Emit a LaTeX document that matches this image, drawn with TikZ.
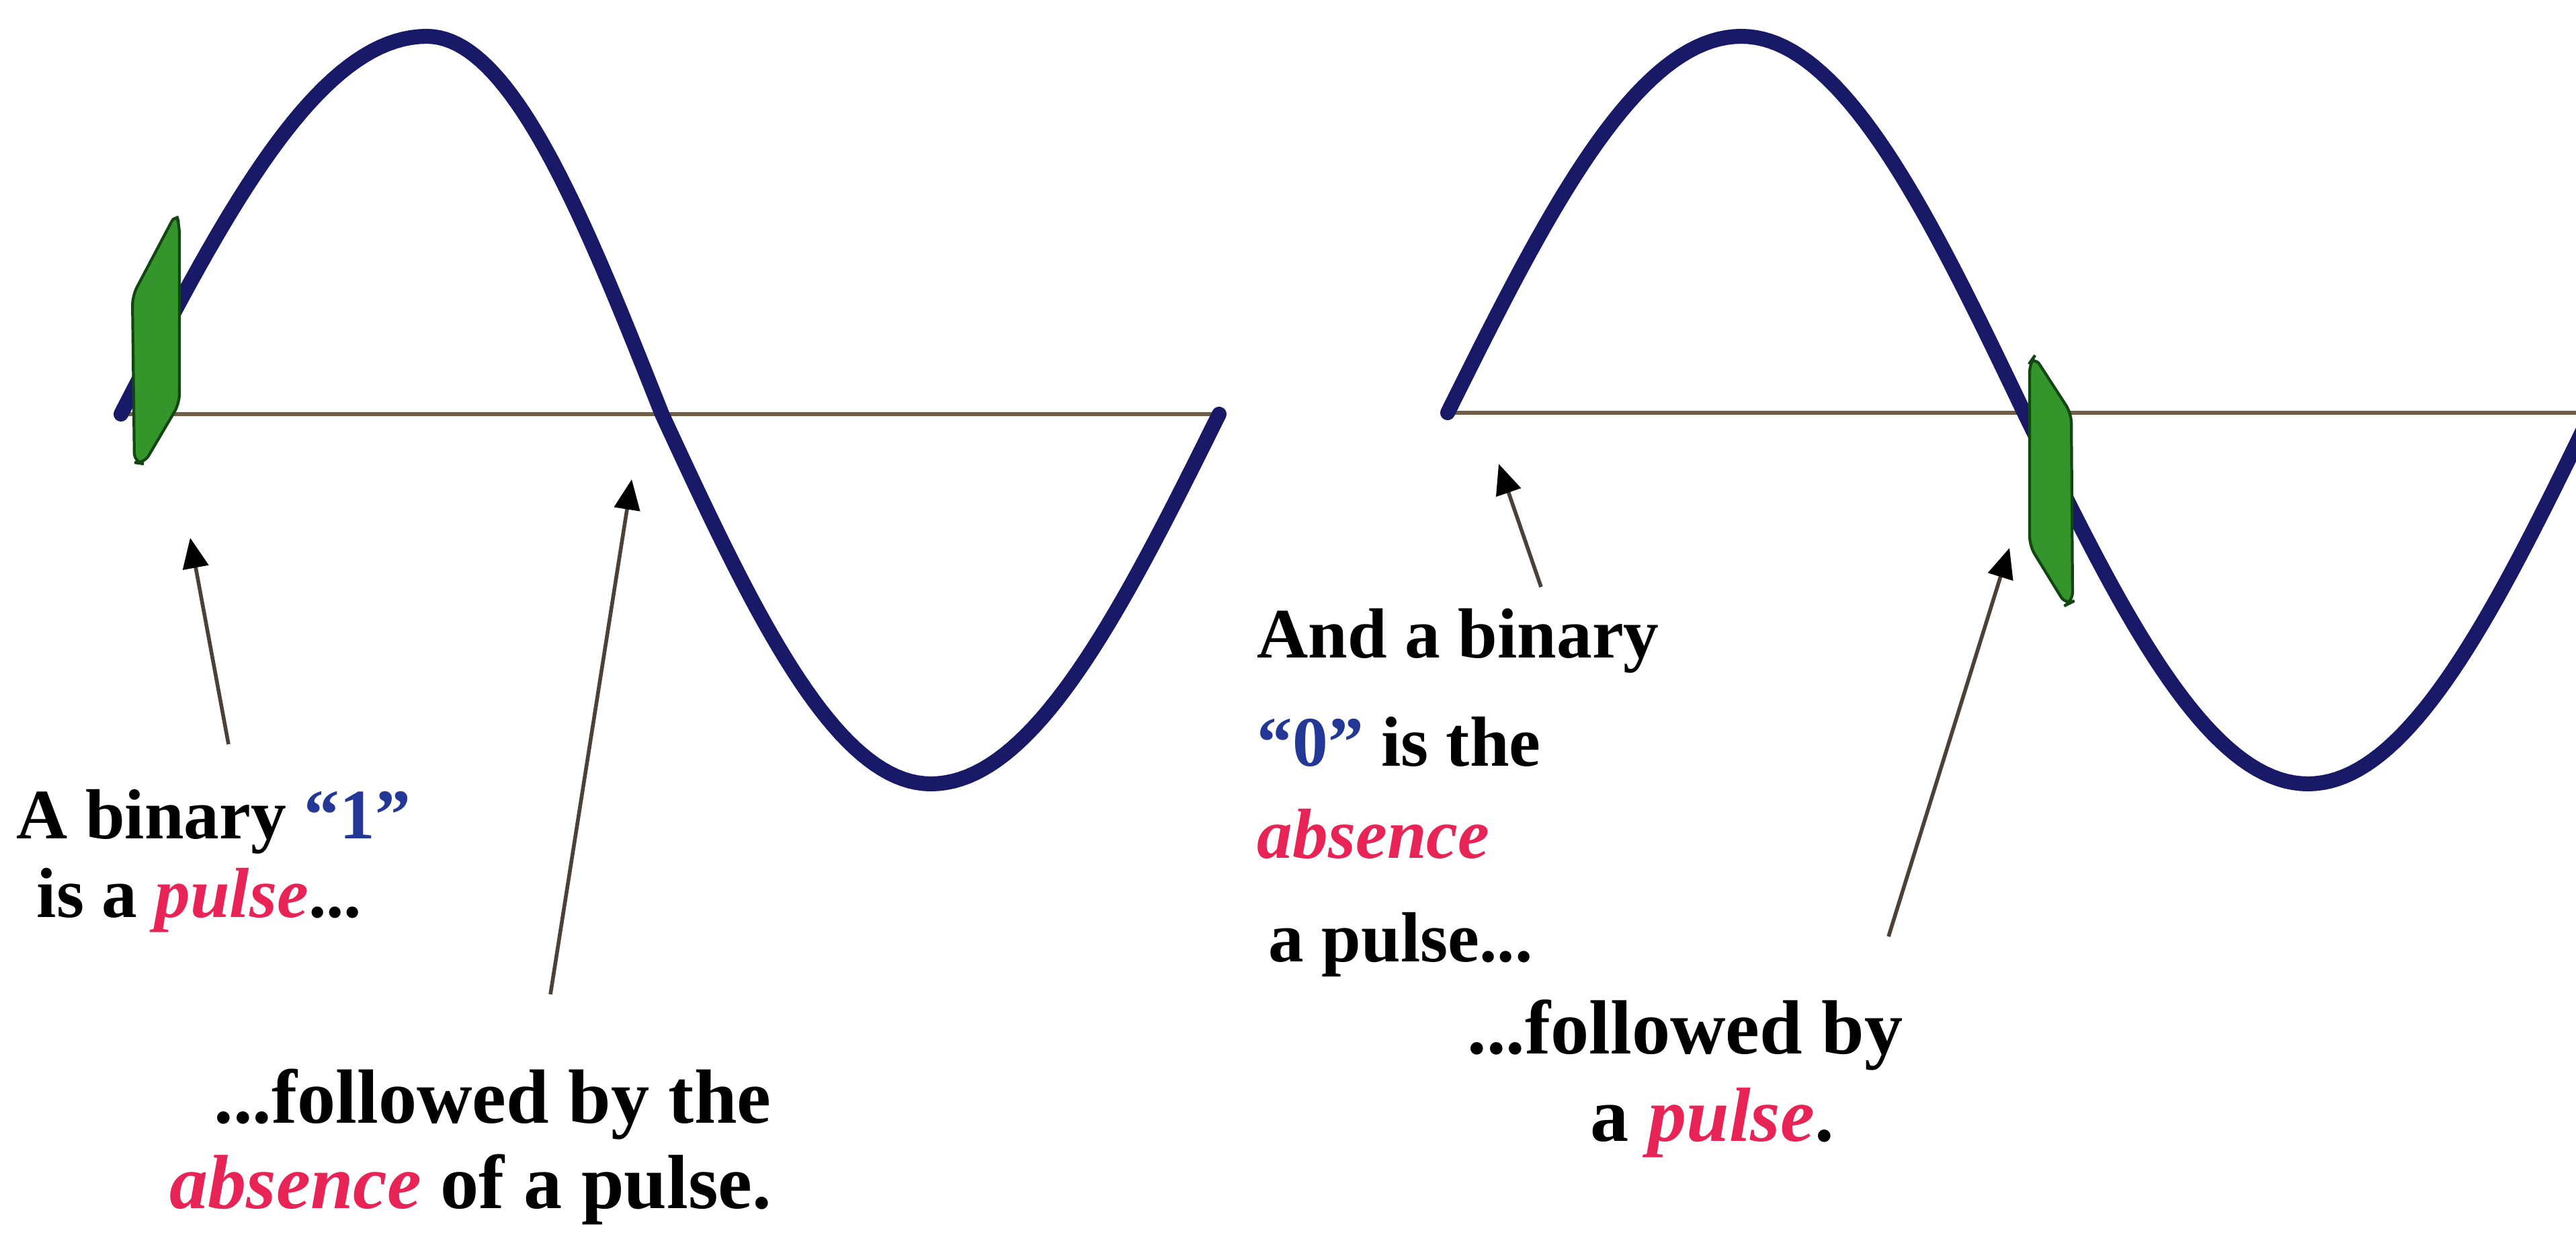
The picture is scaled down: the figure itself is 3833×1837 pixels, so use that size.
\documentclass[tikz,border=0pt]{standalone}
\usepackage{fontspec}
\setmainfont{Liberation Serif}
\usetikzlibrary{arrows.meta}
\definecolor{wavec}{RGB}{24,26,104}
\definecolor{axisc}{RGB}{110,95,70}
\definecolor{pulsec}{RGB}{52,150,42}
\definecolor{pulsed}{RGB}{20,70,20}
\definecolor{bl}{RGB}{35,55,150}
\definecolor{rd}{RGB}{232,35,85}
\definecolor{arrc}{RGB}{75,65,55}
\tikzset{
  wave/.style={draw=wavec, line width=6.3pt, line join=round, line cap=round},
  axisline/.style={draw=axisc, line width=1.6pt},
  pulseshape/.style={fill=pulsec, draw=pulsed, line width=1.2pt, rounded corners=4pt},
  arr/.style={draw=arrc, line width=1.6pt, -{Triangle[length=0.45cm, width=0.38cm, color=black]}},
  txt/.style={font=\fontsize{30}{36}\selectfont\bfseries, inner sep=0pt, anchor=base west, text=black},
  txtb/.style={txt, font=\fontsize{32.5}{38}\selectfont\bfseries},
}
\begin{document}
\begin{tikzpicture}[x=0.01cm, y=-0.01cm]
\useasboundingbox (0,0) rectangle (3833,1837);
\fill[white] (0,0) rectangle (3833,1837);
\clip (0,0) rectangle (3833,1837);

% axes
\draw[axisline] (183,616) -- (1814,616);
\draw[axisline] (2156,614) -- (3833,614);

% left wave
\draw[wave]
  plot[domain=0:90, samples=40] ({180+(635-180)/90*\x}, {616-562*sin(\x)})
  -- plot[domain=90:180, samples=40] ({635+(985-635)/90*(\x-90)}, {616-562*sin(\x)})
  -- plot[domain=180:270, samples=40] ({985+(1385-985)/90*(\x-180)}, {616-550*sin(\x)})
  -- plot[domain=270:360, samples=40] ({1385+(1814-1385)/90*(\x-270)}, {616-550*sin(\x)});

% right wave
\draw[wave]
  plot[domain=0:90, samples=40] ({2154+(2591-2154)/90*\x}, {614-560*sin(\x)})
  -- plot[domain=90:180, samples=40] ({2591+(3012-2591)/90*(\x-90)}, {614-560*sin(\x)})
  -- plot[domain=180:270, samples=40] ({3012+(3434-3012)/90*(\x-180)}, {614-552*sin(\x)})
  -- plot[domain=270:360, samples=40] ({3434+(3856-3434)/90*(\x-270)}, {614-552*sin(\x)});

% pulses
\draw[pulseshape] (262,317) -- (267,335) -- (267,600) -- (214,690) -- (200,688) -- (197,440) -- cycle;
\draw[pulseshape] (3027,530) -- (3082,615) -- (3084,895) -- (3074,900) -- (3020,812) -- (3020,540) -- cycle;

% texts
\node[txt] (b1a) at (24,1247) {A binary {\color{bl}“1”}};
\node[txt] (b1b) at (54,1364) {is a {\color{rd}\itshape pulse}...};
\node[txtb] (b2a) at (318,1670) {...followed by the};
\node[txtb] (b2b) at (252,1797) {{\color{rd}\itshape absence} of a pulse.};
\node[txt] (b3a) at (1870,978) {And a binary};
\node[txt] (b3b) at (1870,1139) {{\color{bl}“0”} is the};
\node[txt] (b3c) at (1870,1276) {{\color{rd}\itshape absence}};
\node[txt] (b3d) at (1887,1430) {a pulse...};
\node[txtb] (b4a) at (2183,1567) {...followed by};
\node[txtb] (b4b) at (2366,1697) {a {\color{rd}\itshape pulse}.};

% arrows
\coordinate (t1) at (340,1107);
\coordinate (h1) at (283,800);
\coordinate (t2) at (819,1479);
\coordinate (h2) at (940,713);
\coordinate (t3) at (2293,873);
\coordinate (h3) at (2230,690);
\coordinate (t4) at (2810,1393);
\coordinate (h4) at (2990,815);
\draw[arr] (t1) -- (h1);
\draw[arr] (t2) -- (h2);
\draw[arr] (t3) -- (h3);
\draw[arr] (t4) -- (h4);
\end{tikzpicture}
\end{document}
